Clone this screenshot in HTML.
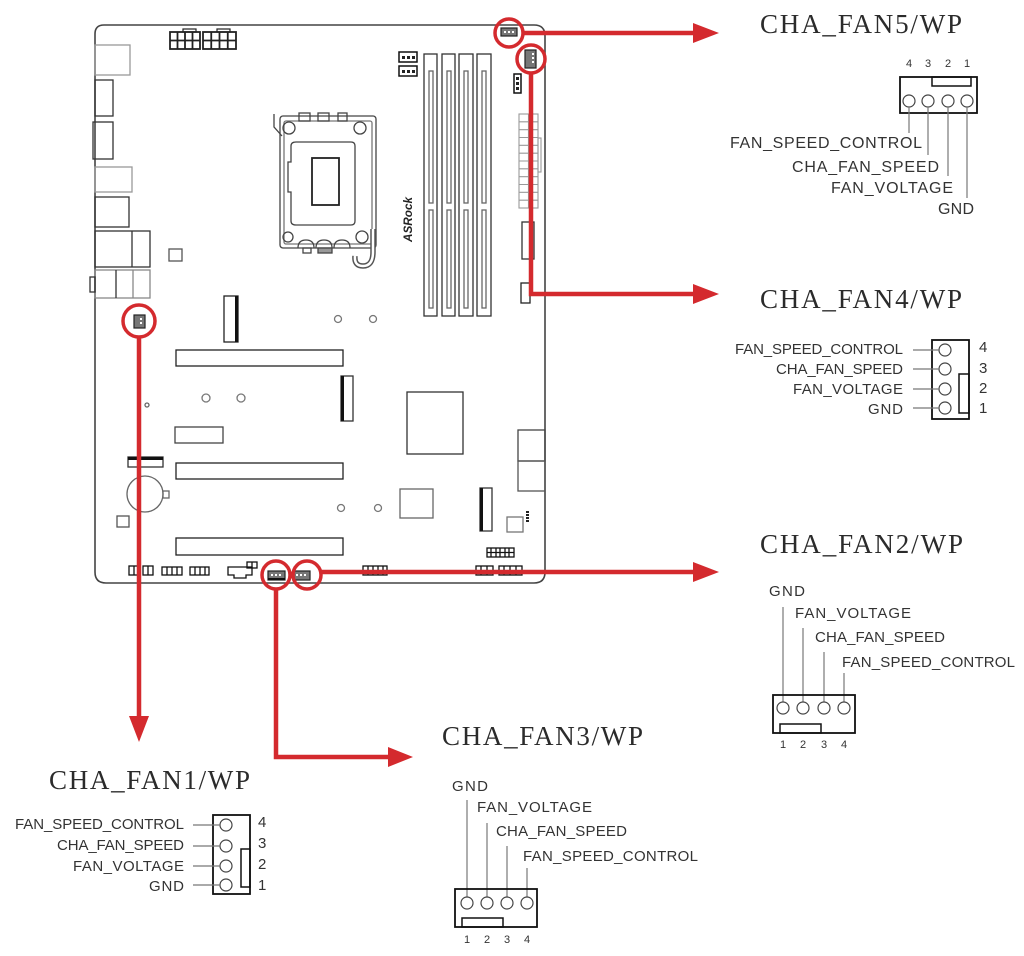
<!DOCTYPE html>
<html><head><meta charset="utf-8"><style>
html,body{margin:0;padding:0;background:#fff;}
svg{display:block;}
.t{font-family:"Liberation Serif",serif;font-size:27px;fill:#2b2b2b;}
.l{font-family:"Liberation Sans",sans-serif;font-size:15px;fill:#333;}
.l16{font-family:"Liberation Sans",sans-serif;font-size:16px;fill:#333;}
.n{font-family:"Liberation Sans",sans-serif;font-size:11px;fill:#333;}
.n15{font-family:"Liberation Sans",sans-serif;font-size:15px;fill:#333;}
</style></head><body>
<svg width="1024" height="956" viewBox="0 0 1024 956" xmlns="http://www.w3.org/2000/svg">
<rect width="1024" height="956" fill="#fff"/>

<!-- ============ MOTHERBOARD ============ -->
<g fill="none" stroke="#333" stroke-width="1.3">
  <path d="M104,25 H534 Q545,25 545,36 V572 Q545,583 534,583 H106 Q95,583 95,572 V34 Q95,25 104,25 Z" stroke="#444" stroke-width="1.6"/>

  <!-- rear IO -->
  <rect x="95" y="45" width="35" height="30" stroke="#999"/>
  <rect x="95" y="80" width="18" height="36"/>
  <rect x="93" y="122" width="20" height="37"/>
  <rect x="95" y="167" width="37" height="25" stroke="#999"/>
  <rect x="95" y="197" width="34" height="30"/>
  <rect x="95" y="231" width="55" height="36"/>
  <line x1="132" y1="231" x2="132" y2="267"/>
  <rect x="95" y="270" width="55" height="28" stroke="#888"/>
  <line x1="116" y1="270" x2="116" y2="298"/>
  <line x1="133" y1="270" x2="133" y2="298" stroke="#888"/>
  <rect x="90" y="277" width="5" height="15"/>
  <rect x="169" y="249" width="13" height="12" stroke="#555"/>

  <!-- 8 pin CPU power -->
  <g stroke="#222" stroke-width="1.8">
    <rect x="170" y="32" width="30" height="17"/>
    <line x1="177.5" y1="32" x2="177.5" y2="49"/><line x1="185" y1="32" x2="185" y2="49"/><line x1="192.5" y1="32" x2="192.5" y2="49"/>
    <line x1="170" y1="40.5" x2="200" y2="40.5"/>
    <rect x="183" y="29" width="13" height="3" stroke-width="1.2"/>
    <rect x="203" y="32" width="33" height="17"/>
    <line x1="211.25" y1="32" x2="211.25" y2="49"/><line x1="219.5" y1="32" x2="219.5" y2="49"/><line x1="227.75" y1="32" x2="227.75" y2="49"/>
    <line x1="203" y1="40.5" x2="236" y2="40.5"/>
    <rect x="217" y="29" width="13" height="3" stroke-width="1.2"/>
  </g>

  <!-- CPU socket -->
  <g stroke="#444" stroke-width="1.3">
    <path d="M274,114 V127 L282,136"/>
    <rect x="280" y="116" width="96" height="132" rx="3"/>
    <rect x="284" y="121" width="88" height="123" rx="2" stroke="#777"/>
    <path d="M296,142 H351 Q355,142 355,146 V221 Q355,225 351,225 H296 Q291,225 291,221 V192 H288 V162 H291 V146 Q291,142 296,142 Z"/>
    <rect x="312" y="158" width="27" height="47" stroke="#222" stroke-width="1.8"/>
    <circle cx="289" cy="128" r="6"/>
    <circle cx="360" cy="128" r="6"/>
    <circle cx="288" cy="237" r="5"/>
    <circle cx="362" cy="237" r="6"/>
    <rect x="299" y="113" width="11" height="8"/>
    <rect x="318" y="113" width="11" height="8"/>
    <rect x="338" y="113" width="9" height="8"/>
    <path d="M298,248 Q298,240 306,240 Q314,240 314,248"/>
    <path d="M316,248 Q316,240 324,240 Q332,240 332,248"/>
    <path d="M334,248 Q334,240 342,240 Q350,240 350,248"/>
    <rect x="318" y="248" width="14" height="5" fill="#999"/>
    <rect x="303" y="248" width="8" height="5"/>
  </g>
  <path d="M373,229 V252 Q373,266 363,266 Q354,266 355,256" stroke="#555" stroke-width="5.5" fill="none"/>
  <path d="M373,229 V252 Q373,266 363,266 Q354,266 355,256" stroke="#fff" stroke-width="2.5" fill="none"/>

  <!-- DIMM slots -->
  <g stroke="#333">
    <rect x="424" y="54" width="13" height="262"/>
    <rect x="429" y="71" width="4" height="132" stroke="#666"/>
    <rect x="429" y="210" width="4" height="98" stroke="#666"/>
    <rect x="442" y="54" width="13" height="262"/>
    <rect x="447" y="71" width="4" height="132" stroke="#666"/>
    <rect x="447" y="210" width="4" height="98" stroke="#666"/>
    <rect x="459" y="54" width="14" height="262"/>
    <rect x="464" y="71" width="4" height="132" stroke="#666"/>
    <rect x="464" y="210" width="4" height="98" stroke="#666"/>
    <rect x="477" y="54" width="14" height="262"/>
    <rect x="482" y="71" width="4" height="132" stroke="#666"/>
    <rect x="482" y="210" width="4" height="98" stroke="#666"/>
  </g>

  <!-- small headers near DIMM -->
  <g stroke="#111" stroke-width="1.5">
    <rect x="399" y="52" width="18" height="10"/>
    <rect x="399" y="66" width="18" height="10"/>
    <rect x="514" y="74" width="7" height="19"/>
  </g>
  <g fill="#222" stroke="none">
    <rect x="402" y="56" width="3" height="3"/><rect x="407" y="56" width="3" height="3"/><rect x="412" y="56" width="3" height="3"/>
    <rect x="402" y="70" width="3" height="3"/><rect x="407" y="70" width="3" height="3"/><rect x="412" y="70" width="3" height="3"/>
    <rect x="516" y="77" width="3" height="3"/><rect x="516" y="82" width="3" height="3"/><rect x="516" y="87" width="3" height="3"/>
  </g>

  <!-- 24 pin ATX -->
  <g stroke="#999" stroke-width="1.1">
    <rect x="519" y="114" width="19" height="94"/>
    <line x1="528.5" y1="114" x2="528.5" y2="208"/>
    <line x1="519" y1="121.8" x2="538" y2="121.8"/><line x1="519" y1="129.7" x2="538" y2="129.7"/>
    <line x1="519" y1="137.5" x2="538" y2="137.5"/><line x1="519" y1="145.3" x2="538" y2="145.3"/>
    <line x1="519" y1="153.2" x2="538" y2="153.2"/><line x1="519" y1="161" x2="538" y2="161"/>
    <line x1="519" y1="168.8" x2="538" y2="168.8"/><line x1="519" y1="176.7" x2="538" y2="176.7"/>
    <line x1="519" y1="184.5" x2="538" y2="184.5"/><line x1="519" y1="192.3" x2="538" y2="192.3"/>
    <line x1="519" y1="200.2" x2="538" y2="200.2"/>
    <rect x="538" y="138" width="3" height="34"/>
  </g>
  <rect x="522" y="222" width="12" height="37"/>
  <rect x="521" y="283" width="9" height="20" stroke="#222"/>

  <!-- M.2 / PCIe -->
  <rect x="224" y="296" width="14" height="46" stroke="#222"/>
  <rect x="235" y="296" width="3" height="46" fill="#111" stroke="none"/>
  <rect x="176" y="350" width="167" height="16" stroke="#222"/>
  <rect x="176" y="463" width="167" height="16" stroke="#222"/>
  <rect x="176" y="538" width="167" height="17" stroke="#222"/>
  <circle cx="147" cy="405" r="2" stroke="#666"/>
  <circle cx="206" cy="398" r="4" stroke="#777"/>
  <circle cx="241" cy="398" r="4" stroke="#777"/>
  <circle cx="338" cy="319" r="3.5" stroke="#777"/>
  <circle cx="373" cy="319" r="3.5" stroke="#777"/>
  <circle cx="341" cy="508" r="3.5" stroke="#777"/>
  <circle cx="378" cy="508" r="3.5" stroke="#777"/>
  <rect x="175" y="427" width="48" height="16" stroke="#444"/>
  <rect x="128" y="457" width="35" height="10" stroke="#333"/>
  <rect x="128" y="457" width="35" height="3" fill="#111" stroke="none"/>
  <circle cx="145" cy="494" r="18" stroke="#666"/>
  <rect x="163" y="491" width="6" height="7" stroke="#666"/>
  <rect x="117" y="516" width="12" height="11" stroke="#555"/>
  <rect x="341" y="376" width="12" height="45" stroke="#333"/>
  <rect x="341" y="376" width="3" height="45" fill="#111" stroke="none"/>
  <rect x="407" y="392" width="56" height="62" stroke="#333"/>
  <rect x="518" y="430" width="27" height="31" stroke="#444"/>
  <rect x="518" y="461" width="27" height="30" stroke="#555"/>
  <rect x="400" y="489" width="33" height="29" stroke="#666"/>
  <rect x="480" y="488" width="12" height="43" stroke="#333"/>
  <rect x="480" y="488" width="3" height="43" fill="#111" stroke="none"/>
  <rect x="507" y="517" width="16" height="15" stroke="#777"/>
  <g fill="#222" stroke="none">
    <rect x="526" y="511" width="3" height="2"/><rect x="526" y="514" width="3" height="2"/>
    <rect x="526" y="517" width="3" height="2"/><rect x="526" y="520" width="3" height="2"/>
  </g>

  <!-- bottom headers -->
  <g stroke="#111" stroke-width="1.3">
    <rect x="487" y="548" width="27" height="9"/>
    <line x1="491" y1="548" x2="491" y2="557"/><line x1="496" y1="548" x2="496" y2="557"/><line x1="500" y1="548" x2="500" y2="557"/><line x1="505" y1="548" x2="505" y2="557"/><line x1="509" y1="548" x2="509" y2="557"/>
    <line x1="487" y1="552.5" x2="514" y2="552.5"/>
    <rect x="129" y="566" width="10" height="9"/><line x1="134" y1="566" x2="134" y2="575"/>
    <rect x="143" y="566" width="10" height="9"/><line x1="148" y1="566" x2="148" y2="575"/>
    <rect x="162" y="567" width="20" height="8"/><line x1="167" y1="567" x2="167" y2="575"/><line x1="172" y1="567" x2="172" y2="575"/><line x1="177" y1="567" x2="177" y2="575"/>
    <rect x="190" y="567" width="19" height="8"/><line x1="195" y1="567" x2="195" y2="575"/><line x1="200" y1="567" x2="200" y2="575"/><line x1="205" y1="567" x2="205" y2="575"/>
    <path d="M228,567 H252 V575 H246 V578 H234 V575 H228 Z"/>
    <rect x="247" y="562" width="10" height="6"/><line x1="252" y1="562" x2="252" y2="568"/>
    <rect x="363" y="566" width="24" height="9"/><line x1="368" y1="566" x2="368" y2="575"/><line x1="373" y1="566" x2="373" y2="575"/><line x1="378" y1="566" x2="378" y2="575"/><line x1="383" y1="566" x2="383" y2="575"/>
    <rect x="476" y="566" width="17" height="9"/><line x1="481" y1="566" x2="481" y2="575"/><line x1="487" y1="566" x2="487" y2="575"/>
    <rect x="499" y="566" width="23" height="9"/><line x1="504" y1="566" x2="504" y2="575"/><line x1="510" y1="566" x2="510" y2="575"/><line x1="516" y1="566" x2="516" y2="575"/>
  </g>
</g>

<!-- ASRock logo -->
<text transform="translate(412,242) rotate(-90)" font-family="Liberation Sans, sans-serif" font-weight="bold" font-style="italic" font-size="12" fill="#222" textLength="45" lengthAdjust="spacingAndGlyphs">ASRock</text>

<!-- fan connectors on board -->
<g stroke="#222" stroke-width="1.2" fill="#777">
  <rect x="501" y="28" width="16" height="8"/>
  <rect x="525" y="50" width="11" height="18"/>
  <rect x="134" y="315" width="11" height="13"/>
  <rect x="268" y="571" width="17" height="9"/>
  <rect x="293" y="571" width="17" height="9"/>
</g>
<g fill="#fff" stroke="none">
  <rect x="504" y="31" width="2" height="2"/><rect x="508" y="31" width="2" height="2"/><rect x="512" y="31" width="2" height="2"/>
  <rect x="532" y="53" width="2" height="2"/><rect x="532" y="57" width="2" height="2"/><rect x="532" y="61" width="2" height="2"/>
  <rect x="140" y="318" width="2" height="2"/><rect x="140" y="322" width="2" height="2"/>
  <rect x="271" y="574" width="2" height="2"/><rect x="275" y="574" width="2" height="2"/><rect x="279" y="574" width="2" height="2"/>
  <rect x="296" y="574" width="2" height="2"/><rect x="300" y="574" width="2" height="2"/><rect x="304" y="574" width="2" height="2"/>
</g>
<rect x="268" y="578" width="17" height="2" fill="#111"/>

<!-- ============ RED CALLOUTS ============ -->
<g fill="none" stroke="#d42a2e" stroke-width="3.5">
  <circle cx="509" cy="33" r="14"/>
  <circle cx="531" cy="59" r="14"/>
  <circle cx="139" cy="321" r="16"/>
  <circle cx="276" cy="575" r="14"/>
  <circle cx="307" cy="575" r="14"/>
</g>
<g fill="none" stroke="#d42a2e" stroke-width="4.5">
  <line x1="523" y1="33" x2="695" y2="33"/>
  <polyline points="531,73 531,294 695,294"/>
  <line x1="139" y1="337" x2="139" y2="718"/>
  <polyline points="276,589 276,757 390,757"/>
  <line x1="321" y1="572" x2="695" y2="572"/>
</g>
<g fill="#d42a2e">
  <polygon points="693,23 719,33 693,43"/>
  <polygon points="693,284 719,294 693,304"/>
  <polygon points="693,562 719,572 693,582"/>
  <polygon points="388,747 413,757 388,767"/>
  <polygon points="129,716 149,716 139,742"/>
</g>

<!-- ============ FAN5 ============ -->
<text class="t" x="760" y="33" textLength="202">CHA_FAN5/WP</text>
<g class="n" text-anchor="middle">
  <text x="909" y="67">4</text><text x="928" y="67">3</text><text x="948" y="67">2</text><text x="967" y="67">1</text>
</g>
<rect x="900" y="77" width="77" height="36" fill="none" stroke="#111" stroke-width="1.8"/>
<rect x="932" y="77" width="39" height="9" fill="none" stroke="#111" stroke-width="1.5"/>
<g fill="none" stroke="#444" stroke-width="1.2">
  <circle cx="909" cy="101" r="6"/><circle cx="928" cy="101" r="6"/><circle cx="948" cy="101" r="6"/><circle cx="967" cy="101" r="6"/>
</g>
<g stroke="#777" stroke-width="1.2">
  <line x1="909" y1="107" x2="909" y2="133"/>
  <line x1="928" y1="107" x2="928" y2="155"/>
  <line x1="948" y1="107" x2="948" y2="176"/>
  <line x1="967" y1="107" x2="967" y2="198"/>
</g>
<text class="l16" x="730" y="148" textLength="192">FAN_SPEED_CONTROL</text>
<text class="l16" x="792" y="172" textLength="147">CHA_FAN_SPEED</text>
<text class="l16" x="831" y="193" textLength="122">FAN_VOLTAGE</text>
<text class="l16" x="938" y="214" textLength="36">GND</text>

<!-- ============ FAN4 ============ -->
<text class="t" x="760" y="308" textLength="202">CHA_FAN4/WP</text>
<rect x="932" y="340" width="37" height="79" fill="none" stroke="#111" stroke-width="1.8"/>
<rect x="959" y="374" width="10" height="39" fill="none" stroke="#111" stroke-width="1.5"/>
<g fill="none" stroke="#444" stroke-width="1.2">
  <circle cx="945" cy="350" r="6"/><circle cx="945" cy="369" r="6"/><circle cx="945" cy="389" r="6"/><circle cx="945" cy="408" r="6"/>
</g>
<g stroke="#777" stroke-width="1.2">
  <line x1="913" y1="350" x2="939" y2="350"/><line x1="913" y1="369" x2="939" y2="369"/>
  <line x1="913" y1="389" x2="939" y2="389"/><line x1="913" y1="408" x2="939" y2="408"/>
</g>
<text class="l" x="735" y="354" textLength="168">FAN_SPEED_CONTROL</text>
<text class="l" x="776" y="374" textLength="127">CHA_FAN_SPEED</text>
<text class="l" x="793" y="394" textLength="110">FAN_VOLTAGE</text>
<text class="l" x="868" y="414" textLength="35">GND</text>
<g class="n15">
  <text x="979" y="352">4</text><text x="979" y="373">3</text><text x="979" y="393">2</text><text x="979" y="413">1</text>
</g>

<!-- ============ FAN2 ============ -->
<text class="t" x="760" y="553" textLength="203">CHA_FAN2/WP</text>
<g stroke="#777" stroke-width="1.2">
  <line x1="783" y1="607" x2="783" y2="702"/>
  <line x1="803" y1="628" x2="803" y2="702"/>
  <line x1="824" y1="652" x2="824" y2="702"/>
  <line x1="844" y1="673" x2="844" y2="702"/>
</g>
<rect x="773" y="695" width="82" height="38" fill="none" stroke="#111" stroke-width="1.8"/>
<rect x="780" y="724" width="41" height="9" fill="none" stroke="#111" stroke-width="1.5"/>
<g fill="none" stroke="#444" stroke-width="1.2">
  <circle cx="783" cy="708" r="6"/><circle cx="803" cy="708" r="6"/><circle cx="824" cy="708" r="6"/><circle cx="844" cy="708" r="6"/>
</g>
<text class="l" x="769" y="596" textLength="36">GND</text>
<text class="l" x="795" y="618" textLength="116">FAN_VOLTAGE</text>
<text class="l" x="815" y="642" textLength="130">CHA_FAN_SPEED</text>
<text class="l" x="842" y="667" textLength="173">FAN_SPEED_CONTROL</text>
<g class="n" text-anchor="middle">
  <text x="783" y="748">1</text><text x="803" y="748">2</text><text x="824" y="748">3</text><text x="844" y="748">4</text>
</g>

<!-- ============ FAN1 ============ -->
<text class="t" x="49" y="789" textLength="201">CHA_FAN1/WP</text>
<rect x="213" y="815" width="37" height="79" fill="none" stroke="#111" stroke-width="1.8"/>
<rect x="241" y="849" width="9" height="38" fill="none" stroke="#111" stroke-width="1.5"/>
<g fill="none" stroke="#444" stroke-width="1.2">
  <circle cx="226" cy="825" r="6"/><circle cx="226" cy="846" r="6"/><circle cx="226" cy="866" r="6"/><circle cx="226" cy="885" r="6"/>
</g>
<g stroke="#777" stroke-width="1.2">
  <line x1="193" y1="825" x2="220" y2="825"/><line x1="193" y1="846" x2="220" y2="846"/>
  <line x1="193" y1="866" x2="220" y2="866"/><line x1="193" y1="885" x2="220" y2="885"/>
</g>
<text class="l" x="15" y="829" textLength="169">FAN_SPEED_CONTROL</text>
<text class="l" x="57" y="850" textLength="127">CHA_FAN_SPEED</text>
<text class="l" x="73" y="871" textLength="111">FAN_VOLTAGE</text>
<text class="l" x="149" y="891" textLength="35">GND</text>
<g class="n15">
  <text x="258" y="827">4</text><text x="258" y="848">3</text><text x="258" y="869">2</text><text x="258" y="890">1</text>
</g>

<!-- ============ FAN3 ============ -->
<text class="t" x="442" y="745" textLength="201">CHA_FAN3/WP</text>
<g stroke="#777" stroke-width="1.2">
  <line x1="467" y1="800" x2="467" y2="897"/>
  <line x1="487" y1="823" x2="487" y2="897"/>
  <line x1="507" y1="846" x2="507" y2="897"/>
  <line x1="527" y1="868" x2="527" y2="897"/>
</g>
<rect x="455" y="889" width="82" height="38" fill="none" stroke="#111" stroke-width="1.8"/>
<rect x="462" y="918" width="41" height="9" fill="none" stroke="#111" stroke-width="1.5"/>
<g fill="none" stroke="#444" stroke-width="1.2">
  <circle cx="467" cy="903" r="6"/><circle cx="487" cy="903" r="6"/><circle cx="507" cy="903" r="6"/><circle cx="527" cy="903" r="6"/>
</g>
<text class="l" x="452" y="791" textLength="36">GND</text>
<text class="l" x="477" y="812" textLength="115">FAN_VOLTAGE</text>
<text class="l" x="496" y="836" textLength="131">CHA_FAN_SPEED</text>
<text class="l" x="523" y="861" textLength="175">FAN_SPEED_CONTROL</text>
<g class="n" text-anchor="middle">
  <text x="467" y="943">1</text><text x="487" y="943">2</text><text x="507" y="943">3</text><text x="527" y="943">4</text>
</g>
</svg>
</body></html>
